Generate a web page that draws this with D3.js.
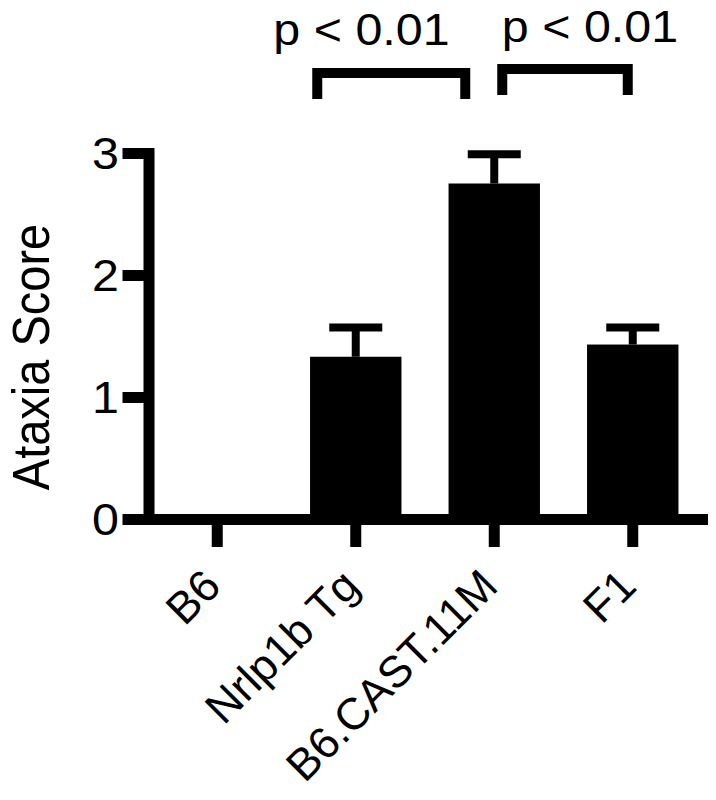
<!DOCTYPE html>
<html>
<head>
<meta charset="utf-8">
<script src="https://cdn.jsdelivr.net/npm/d3@7"></script>
<style>
  html, body { margin: 0; padding: 0; background: #fff; }
  svg { display: block; }
  text { font-family: "Liberation Sans", Arial, Helvetica, sans-serif; fill: #000; }
</style>
</head>
<body>
<svg id="chart" width="716" height="800"></svg>
<script>
// ---- data ----
const categories = ["B6", "Nrlp1b Tg", "B6.CAST.11M", "F1"];
const means = [0, 1.33, 2.75, 1.43];
const sems = [0, 0.24, 0.24, 0.14];
const yTicks = [0, 1, 2, 3];
const compFrom = [1, 2];
const compTo = [2, 3];
const compLabels = ["p < 0.01", "p < 0.01"];
const yTitle = "Ataxia Score";

// ---- layout ----
const svg = d3.select("#chart");
const SX = 1.1; // horizontal stretch of the original figure's horizontal text
const fs = 44;

const x = d3.scaleBand().domain(categories).range([148, 702])
  .paddingInner(0.34).paddingOuter(0.17);
const y = d3.scaleLinear().domain([0, 3]).range([519, 153]);

// bars
svg.append("g").selectAll("rect").data(categories).join("rect")
  .attr("x", d => x(d))
  .attr("width", x.bandwidth())
  .attr("y", (d, i) => y(means[i]))
  .attr("height", (d, i) => y(0) - y(means[i]))
  .attr("fill", "#000");

// error bars
const eb = svg.append("g").attr("stroke", "#000").attr("stroke-width", 8).attr("fill", "none");
categories.forEach((c, i) => {
  if (sems[i] <= 0) return;
  const cx = x(c) + x.bandwidth() / 2;
  eb.append("line").attr("x1", cx).attr("x2", cx)
    .attr("y1", y(means[i])).attr("y2", y(means[i] + sems[i]));
  eb.append("line").attr("x1", cx - 26.5).attr("x2", cx + 26.5)
    .attr("y1", y(means[i] + sems[i])).attr("y2", y(means[i] + sems[i]));
});

// x axis
const xAxis = svg.append("g").attr("transform", `translate(0,${y(0)})`)
  .call(d3.axisBottom(x).tickSize(28).tickSizeOuter(0).tickFormat(""));
xAxis.select(".domain").attr("stroke-width", 11).attr("stroke-linecap", "square");
xAxis.selectAll(".tick line").attr("stroke-width", 11);

// y axis
const yAxis = svg.append("g").attr("transform", `translate(148.5,0)`)
  .call(d3.axisLeft(y).tickValues(yTicks).tickSize(26).tickSizeOuter(0).tickFormat(""));
yAxis.select(".domain").attr("stroke-width", 11).attr("stroke-linecap", "square");
yAxis.selectAll(".tick line").attr("stroke-width", 11);

// y tick labels
svg.append("g").selectAll("text").data(yTicks).join("text")
  .attr("transform", d => `translate(119,${y(d)}) scale(${SX},1)`)
  .attr("text-anchor", "end")
  .attr("dy", "0.36em")
  .attr("font-size", fs)
  .text(d => d3.format("d")(d));

// y title
svg.append("text")
  .attr("transform", `translate(49,357) scale(${SX},1) rotate(-90)`)
  .attr("text-anchor", "middle")
  .attr("font-size", 47)
  .text(yTitle);

// x labels
svg.append("g").selectAll("text").data(categories).join("text")
  .attr("transform", d => `translate(${x(d) + x.bandwidth() / 2 + 5.7},588.5) rotate(-45)`)
  .attr("text-anchor", "end")
  .attr("font-size", 44.5)
  .text(d => d);

// significance brackets
const br = svg.append("g");
const legOff = [[-38.5, -29], [8, -5]];
const topY = [73, 69];
const textX = [361.5, 590];
const textY = [45, 42];
compFrom.forEach((f, k) => {
  const x1 = x(categories[f]) + x.bandwidth() / 2 + legOff[k][0];
  const x2 = x(categories[compTo[k]]) + x.bandwidth() / 2 + legOff[k][1];
  const t = topY[k];
  br.append("path")
    .attr("d", `M${x1},${t + 21}V${t}H${x2}V${t + 21}`)
    .attr("fill", "none").attr("stroke", "#000").attr("stroke-width", 10)
    .attr("stroke-linecap", "square").attr("stroke-linejoin", "miter");
  br.append("text")
    .attr("transform", `translate(${textX[k]},${textY[k]}) scale(${SX},1)`)
    .attr("text-anchor", "middle")
    .attr("font-size", fs)
    .text(compLabels[k]);
});
</script>
</body>
</html>
